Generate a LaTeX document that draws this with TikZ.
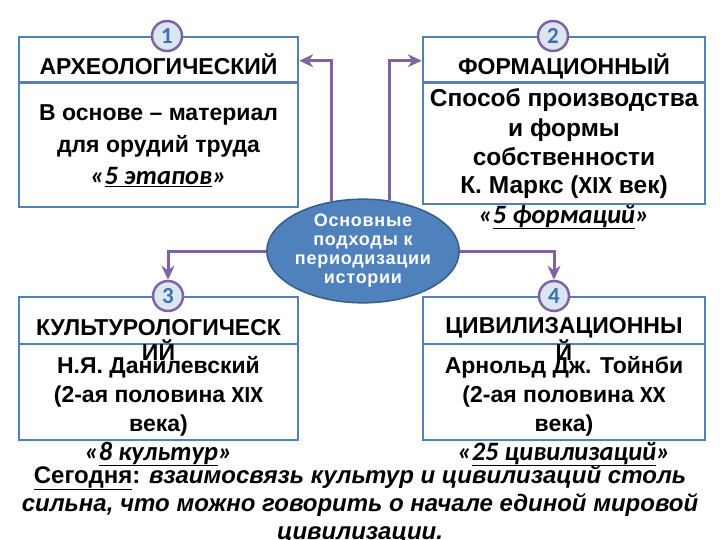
\documentclass[tikz,border=0pt]{standalone}
\usepackage{fontspec}
\setmainfont{Liberation Sans}
\newfontfamily\calib{Carlito}
\newfontfamily\ovalfont[LetterSpace=4]{Liberation Sans}
\usetikzlibrary{arrows.meta, positioning, shapes.geometric}

\definecolor{frameblue}{HTML}{4F81BD}
\definecolor{linkpurple}{HTML}{8064A2}
\definecolor{numfill}{HTML}{DCE6F2}
\definecolor{numblue}{HTML}{3F6FAE}
\definecolor{ovalblue}{HTML}{4F81BD}
\definecolor{ovalline}{HTML}{385D8A}

\newcommand\romannum[1]{{\calib #1}}
\newcommand\countline[1]{{\calib\itshape\fontsize{26.5}{29}\selectfont «\underline{#1}»}}

\begin{document}
\begin{tikzpicture}[
        x=1pt, y=-1pt,
        % Рамки подходов
        framebox/.style={
                rectangle,
                draw=frameblue,
                line width=2.5pt,
                inner sep=0pt
            },
        % Линия под заголовком
        frameline/.style={
                draw=frameblue,
                line width=2.5pt
            },
        % Заголовки
        headtext/.style={
                font=\bfseries\fontsize{23}{25}\selectfont,
                align=center,
                inner sep=0pt
            },
        % Текст в рамках
        bodytext/.style={
                font=\bfseries\fontsize{23}{29}\selectfont,
                align=center,
                inner sep=0pt
            },
        % Номера
        numcircle/.style={
                circle,
                draw=linkpurple,
                fill=numfill,
                line width=2.5pt,
                minimum size=30pt,
                inner sep=0pt,
                font=\calib\bfseries\fontsize{23}{23}\selectfont,
                text=numblue
            },
        % Центральный овал
        oval/.style={
                ellipse,
                draw=ovalline,
                fill=ovalblue,
                line width=1.5pt,
                minimum width=178pt,
                minimum height=84pt,
                inner sep=0pt,
                font=\ovalfont\bfseries\fontsize{18}{19}\selectfont,
                text=white,
                align=center
            },
        % Стрелки
        link/.style={
                -{Stealth[length=14pt, width=13pt]},
                line width=3pt,
                draw=linkpurple
            },
        % Итог
        notetext/.style={
                font=\bfseries\fontsize{24}{28}\selectfont,
                align=center,
                inner sep=0pt
            }
    ]
    \useasboundingbox (0,0) rectangle (720,540);

    % Рамки
    \node[framebox, minimum width=279pt, minimum height=170pt] (arch) at (158.5,122) {};
    \node[framebox, minimum width=282pt, minimum height=167pt] (form) at (564,120.5) {};
    \node[framebox, minimum width=279pt, minimum height=143pt] (cult) at (158.5,368.5) {};
    \node[framebox, minimum width=282pt, minimum height=143pt] (civ) at (564,368.5) {};

    \draw[frameline] ([yshift=-47pt]arch.north west) -- ([yshift=-47pt]arch.north east);
    \draw[frameline] ([yshift=-47pt]form.north west) -- ([yshift=-47pt]form.north east);
    \draw[frameline] ([yshift=-48pt]cult.north west) -- ([yshift=-48pt]cult.north east);
    \draw[frameline] ([yshift=-48pt]civ.north west) -- ([yshift=-48pt]civ.north east);

    % Заголовки (base = последняя строка)
    \node[headtext, anchor=base] (archhead) at (158.5,75) {АРХЕОЛОГИЧЕСКИЙ};
    \node[headtext, anchor=base] (formhead) at (564,75) {ФОРМАЦИОННЫЙ};
    \node[headtext, anchor=base] (culthead) at (158.5,360) {КУЛЬТУРОЛОГИЧЕСК\\ИЙ};
    \node[headtext, anchor=base] (civhead) at (564,360) {ЦИВИЛИЗАЦИОННЫ\\Й};

    % Содержание
    \node[bodytext, anchor=base, font=\bfseries\fontsize{23}{32}\selectfont] (archtext) at (158.5,185) {В основе – материал\\для орудий труда\\\countline{5 этапов}};
    \node[bodytext, anchor=base, font=\bfseries\fontsize{24.5}{29}\selectfont] (formtext) at (564,223) {Способ производства\\и формы\\собственности\\К. Маркс (\romannum{XIX} век)\\\countline{5 формаций}};
    \node[bodytext, anchor=base] (culttext) at (158.5,460) {Н.Я. Данилевский\\(2-ая половина \romannum{XIX}\\века)\\\countline{8 культур}};
    \node[bodytext, anchor=base] (civtext) at (564,460) {Арнольд Дж. Тойнби\\(2-ая половина \romannum{XX}\\века)\\\countline{25 цивилизаций}};

    % Номера
    \node[numcircle] (archnum) at (167,36) {1};
    \node[numcircle] (formnum) at (553,36) {2};
    \node[numcircle] (cultnum) at (168,296) {3};
    \node[numcircle] (civnum) at (554,296) {4};

    % Овал
    \node[oval] (main) at (363,251) {Основные\\подходы к\\периодизации\\истории};

    % Стрелки
    \draw[link] (main.122) |- ([yshift=-25pt]arch.north east);
    \draw[link] (main.62) |- ([yshift=-25pt]form.north west);
    \draw[link] (main.west) -| (cultnum.north);
    \draw[link] (main.east) -| (civnum.north);

    % Итог
    \node[notetext, anchor=base] (today) at (360,539) {\underline{Сегодня}: \textit{взаимосвязь культур и цивилизаций столь}\\\textit{сильна, что можно говорить о начале единой мировой}\\\textit{цивилизации.}};

\end{tikzpicture}
\end{document}
